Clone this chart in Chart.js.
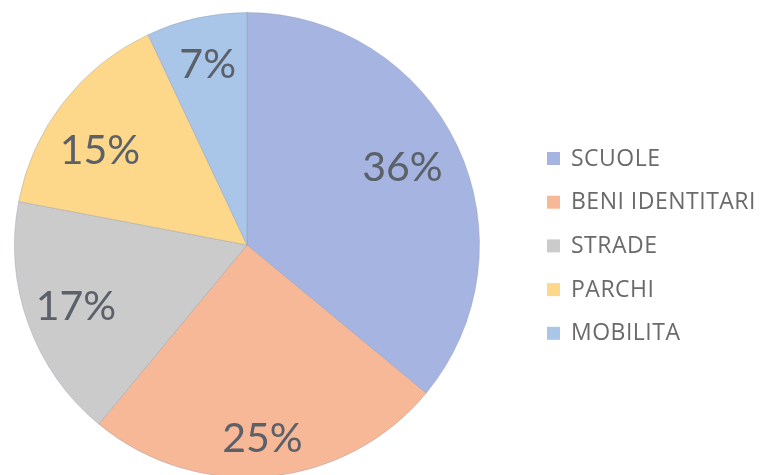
<!DOCTYPE html>
<html>
<head>
<meta charset="utf-8">
<script src="https://cdn.jsdelivr.net/npm/chart.js@4.4.1/dist/chart.umd.min.js"></script>
<style>
  html, body { margin: 0; padding: 0; background: #ffffff; overflow: hidden; width: 768px; height: 475px; }
  #wrap { position: relative; width: 768px; height: 490px; }
</style>
</head>
<body>
<div id="wrap"><canvas id="c" width="768" height="490"></canvas></div>
<script>
const categories = ["SCUOLE", "BENI IDENTITARI", "STRADE", "PARCHI", "MOBILITA"];
const values = [36, 25, 17, 15, 7];
const percentLabels = ["36%", "25%", "17%", "15%", "7%"];
const sliceColors = ["#a5b4e0", "#f7b897", "#cbcbcb", "#fdd88a", "#a9c5e8"];
const labelRadiusFrac = [0.75, 0.83, 0.78, 0.755, 0.80];
const labelAngleShiftDeg = [-1.7, 0.8, 0.5, -4.7, 0.4];

const sliceLabelPlugin = {
  id: 'sliceLabels',
  afterDatasetsDraw(chart) {
    const ctx = chart.ctx;
    const meta = chart.getDatasetMeta(0);
    ctx.save();
    ctx.font = '41px Lato, "Open Sans", sans-serif';
    ctx.fillStyle = '#5b6069';
    ctx.textAlign = 'center';
    ctx.textBaseline = 'alphabetic';
    meta.data.forEach((arc, i) => {
      const p = arc.getProps(['x', 'y', 'startAngle', 'endAngle', 'outerRadius'], true);
      const a = (p.startAngle + p.endAngle) / 2 + labelAngleShiftDeg[i] * Math.PI / 180;
      const r = p.outerRadius * labelRadiusFrac[i];
      ctx.fillText(percentLabels[i], p.x + Math.cos(a) * r, p.y + Math.sin(a) * r + 15);
    });
    ctx.restore();
  }
};

const legendPlugin = {
  id: 'sideLegend',
  afterDraw(chart) {
    const ctx = chart.ctx;
    ctx.save();
    ctx.font = '23px "Open Sans", Lato, sans-serif';
    if ('letterSpacing' in ctx) ctx.letterSpacing = '0.5px';
    ctx.textBaseline = 'middle';
    ctx.textAlign = 'left';
    categories.forEach((name, i) => {
      const y = 158 + i * 43.7;
      ctx.fillStyle = sliceColors[i];
      ctx.fillRect(547, y - 6, 13, 13);
      ctx.fillStyle = '#6a6a6a';
      ctx.fillText(name, 571, y + 1);
    });
    ctx.restore();
  }
};

new Chart(document.getElementById('c'), {
  type: 'pie',
  data: {
    labels: categories,
    datasets: [{
      data: values,
      backgroundColor: sliceColors,
      borderColor: 'rgba(140,150,170,0.35)',
      borderWidth: 1
    }]
  },
  options: {
    responsive: false,
    animation: false,
    layout: { padding: { left: 14, right: 288, top: 12, bottom: 12 } },
    plugins: {
      legend: { display: false },
      tooltip: { enabled: false }
    }
  },
  plugins: [sliceLabelPlugin, legendPlugin]
});
</script>
</body>
</html>
